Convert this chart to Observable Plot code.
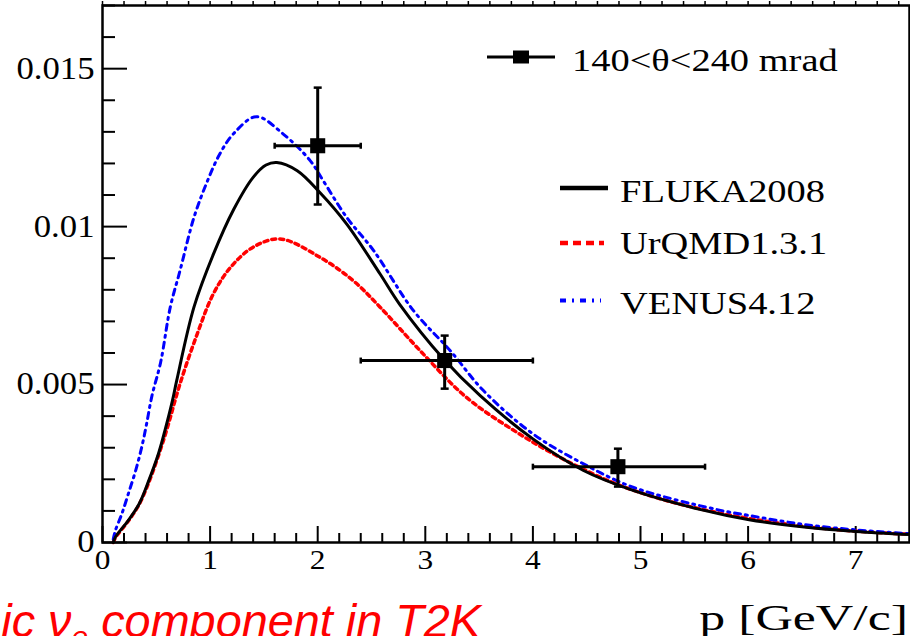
<!DOCTYPE html>
<html><head><meta charset="utf-8">
<script src="https://cdn.jsdelivr.net/npm/d3@7"></script>
<script src="https://cdn.jsdelivr.net/npm/@observablehq/plot@0.6"></script>
<style>
html,body{margin:0;padding:0;background:#fff;}
#chart{width:910px;height:636px;overflow:hidden;position:relative;}
</style></head><body><div id="chart"></div>
<script>
// ---- data ----
const flukaP = [0.10,0.12,0.24,0.34,0.43,0.52,0.58,0.65,0.69,0.85,1.03,1.22,1.40,1.52,1.62,1.81,2.02,2.27,2.58,2.76,3.17,3.51,4.00,4.47,4.93,5.55,6.01,6.50,7.00,7.50];
const flukaY = [0.00000,0.00017,0.00070,0.00122,0.00196,0.00281,0.00354,0.00449,0.00513,0.00745,0.00912,0.01055,0.01156,0.01195,0.01203,0.01177,0.01108,0.01008,0.00850,0.00755,0.00581,0.00465,0.00328,0.00228,0.00165,0.00105,0.00072,0.00050,0.00035,0.00025];
const urqmdP = [0.10,0.12,0.24,0.34,0.43,0.52,0.60,0.72,0.88,1.03,1.19,1.40,1.65,2.02,2.33,2.58,2.95,3.38,3.85,4.31,4.77,5.24,5.86,6.50,7.00,7.50];
const urqmdY = [0.00000,0.00015,0.00068,0.00120,0.00190,0.00275,0.00360,0.00502,0.00660,0.00787,0.00871,0.00935,0.00961,0.00903,0.00829,0.00745,0.00608,0.00460,0.00349,0.00259,0.00186,0.00133,0.00085,0.00052,0.00036,0.00026];
const venusP = [0.10,0.12,0.18,0.24,0.31,0.37,0.41,0.46,0.54,0.63,0.72,0.85,0.97,1.09,1.22,1.43,1.68,1.93,2.05,2.27,2.52,2.89,3.23,3.54,4.00,4.47,4.93,5.70,6.00,6.50,7.00,7.50];
const venusY = [0.00010,0.00038,0.00091,0.00154,0.00230,0.00310,0.00376,0.00465,0.00570,0.00745,0.00860,0.01029,0.01140,0.01230,0.01295,0.01348,0.01293,0.01209,0.01146,0.01029,0.00924,0.00734,0.00608,0.00481,0.00344,0.00249,0.00175,0.00105,0.00086,0.00058,0.00040,0.00028];

const dataP   = [2.00, 3.18, 4.79];
const dataY   = [0.01256, 0.00576, 0.00240];
const dataPlo = [1.60, 2.40, 4.00];
const dataPhi = [2.40, 4.00, 5.60];
const dataYlo = [0.01070, 0.00487, 0.00177];
const dataYhi = [0.01440, 0.00655, 0.00297];

const xTicks = [0,1,2,3,4,5,6,7];
const xTickLabels = ["0","1","2","3","4","5","6","7"];
const yTicks = [0,0.005,0.01,0.015];
const yTickLabels = ["0","0.005","0.01","0.015"];
const legendLabels = ["140<θ<240 mrad","FLUKA2008","UrQMD1.3.1","VENUS4.12"];
const xLabel = "p [GeV/c]";
const captionParts = ["ic ν","e"," component in T2K"];

// ---- build ----
const toRows = (P, Y, model) => P.map((p, i) => ({p, v: Y[i], model}));
const fluka = toRows(flukaP, flukaY, "FLUKA2008");
const urqmd = toRows(urqmdP, urqmdY, "UrQMD1.3.1");
const venus = toRows(venusP, venusY, "VENUS4.12");
const pts = dataP.map((p, i) => ({p, v: dataY[i], plo: dataPlo[i], phi: dataPhi[i], vlo: dataYlo[i], vhi: dataYhi[i]}));

const W = 910, H = 636, mL = 102, mR = 1, mT = 5, mB = 94;
const plotW = W - mL - mR, plotH = H - mT - mB;
const xMinor = d3.range(0, 7.5001, 0.2).map(d => +d.toFixed(2)).filter(d => Math.abs(d - Math.round(d)) > 1e-6);
const yMinor = d3.range(0, 0.0170001, 0.001).map(d => +d.toFixed(4)).filter(d => !yTicks.some(t => Math.abs(t - d) < 1e-7));
const xTopTicks = d3.range(0, 7.5001, 0.2).map(d => +d.toFixed(2));

const vCap = {draw(ctx){ ctx.moveTo(0,-3); ctx.lineTo(0,3); }};
const hCap = {draw(ctx){ ctx.moveTo(-4,0); ctx.lineTo(4,0); }};
const serif = '"Liberation Serif", "Times New Roman", serif';

const plot = Plot.plot({
  width: W, height: H,
  marginLeft: mL, marginRight: mR, marginTop: mT, marginBottom: mB,
  style: {fontFamily: serif, background: "white", color: "black"},
  x: {domain: [0, 7.5]},
  y: {domain: [0, 0.017]},
  marks: [
    // inner ticks
    Plot.tickY(yMinor, {y: d => d, insetRight: plotW - 13, stroke: "black", strokeWidth: 2}),
    Plot.tickY(yTicks, {y: d => d, insetRight: plotW - 25, stroke: "black", strokeWidth: 2}),
    Plot.tickX(xMinor, {x: d => d, insetTop: plotH - 9, stroke: "black", strokeWidth: 2}),
    Plot.tickX(xTicks, {x: d => d, insetTop: plotH - 16, stroke: "black", strokeWidth: 2}),
    Plot.tickX(xTopTicks, {x: d => d, insetBottom: plotH - 4, dy: -4, stroke: "black", strokeWidth: 1.5}),
    Plot.axisY(yTicks, {tickSize: 0, tickPadding: 8, fontSize: 31, label: null,
      tickFormat: d => yTickLabels[yTicks.indexOf(d)]}),
    Plot.axisX(xTicks, {tickSize: 0, tickPadding: 7, fontSize: 28, label: null,
      tickFormat: d => xTickLabels[xTicks.indexOf(d)]}),
    // model curves
    Plot.line(urqmd, {x: "p", y: "v", stroke: "#ff0000", strokeWidth: 3.5, strokeDasharray: "4,4", curve: "catmull-rom"}),
    Plot.line(venus, {x: "p", y: "v", stroke: "#0000ff", strokeWidth: 3, strokeDasharray: "6,5,2,5", curve: "catmull-rom"}),
    Plot.line(fluka, {x: "p", y: "v", stroke: "black", strokeWidth: 3, curve: "catmull-rom"}),
    // data with error bars
    Plot.link(pts, {x1: "plo", x2: "phi", y1: "v", y2: "v", stroke: "black", strokeWidth: 3}),
    Plot.link(pts, {x1: "p", x2: "p", y1: "vlo", y2: "vhi", stroke: "black", strokeWidth: 3}),
    Plot.dot(pts, {x: "plo", y: "v", symbol: vCap, stroke: "black", strokeWidth: 2.5, fill: "none"}),
    Plot.dot(pts, {x: "phi", y: "v", symbol: vCap, stroke: "black", strokeWidth: 2.5, fill: "none"}),
    Plot.dot(pts, {x: "p", y: "vlo", symbol: hCap, stroke: "black", strokeWidth: 2.5, fill: "none"}),
    Plot.dot(pts, {x: "p", y: "vhi", symbol: hCap, stroke: "black", strokeWidth: 2.5, fill: "none"}),
    Plot.dot(pts, {x: "p", y: "v", symbol: "square", r: 8.5, fill: "black", stroke: null}),
    Plot.frame({stroke: "black", strokeWidth: 2.5})
  ]
});
document.getElementById("chart").append(plot);

// ---- legend, axis title, caption ----
const svg = d3.select(plot);
const leg = svg.append("g").attr("font-family", serif).attr("fill", "black").attr("text-anchor", "start");
// data entry
leg.append("line").attr("x1", 487).attr("x2", 555).attr("y1", 57).attr("y2", 57).attr("stroke", "black").attr("stroke-width", 3);
leg.append("rect").attr("x", 513).attr("y", 50.5).attr("width", 16).attr("height", 13).attr("fill", "black");
leg.append("text").attr("class", "st").attr("x", 572).attr("y", 70.5).attr("font-size", 31).text(legendLabels[0]);
// model entries
const entries = [
  {y: 188, ty: 201.5, stroke: "black", dash: null, w: 4.5, x2: 608},
  {y: 243, ty: 253.5, stroke: "#ff0000", dash: "8,5", w: 4.5, x2: 604},
  {y: 300.5, ty: 313.5, stroke: "#0000ff", dash: "6,6,2,6", w: 4, x2: 601}
];
entries.forEach((e, i) => {
  leg.append("line").attr("x1", 560).attr("x2", e.x2).attr("y1", e.y).attr("y2", e.y)
    .attr("stroke", e.stroke).attr("stroke-width", e.w).attr("stroke-dasharray", e.dash);
  leg.append("text").attr("class", "st").attr("x", 620).attr("y", e.ty).attr("font-size", 31).text(legendLabels[i + 1]);
});
// x axis title
svg.append("text").attr("class", "st2").attr("x", 908).attr("y", 630).attr("text-anchor", "end")
  .attr("font-family", serif).attr("font-size", 36).attr("fill", "black").text(xLabel);
// caption (red, italic)
const cap = svg.append("text").attr("x", 481).attr("y", 637).attr("text-anchor", "end")
  .attr("font-family", '"Liberation Sans", Arial, sans-serif').attr("font-style", "italic")
  .attr("font-size", 46.8).attr("fill", "#ff0000");
cap.append("tspan").text(captionParts[0]);
cap.append("tspan").attr("font-size", 30).attr("dy", 10).text(captionParts[1]);
cap.append("tspan").attr("dy", -10).text(captionParts[2]);

// horizontal stretch of the serif texts to match the reference's aspect
function stretch(sel, k) {
  sel.each(function() {
    const w = this.getComputedTextLength();
    if (w > 0) { this.setAttribute("textLength", w * k); this.setAttribute("lengthAdjust", "spacingAndGlyphs"); }
  });
}
stretch(svg.selectAll("g[aria-label='y-axis tick label'] text"), 1.12);
stretch(svg.selectAll("g[aria-label='x-axis tick label'] text"), 1.12);
stretch(svg.selectAll("text.st"), 1.24);
stretch(svg.selectAll("text.st2"), 1.44);
</script></body></html>
